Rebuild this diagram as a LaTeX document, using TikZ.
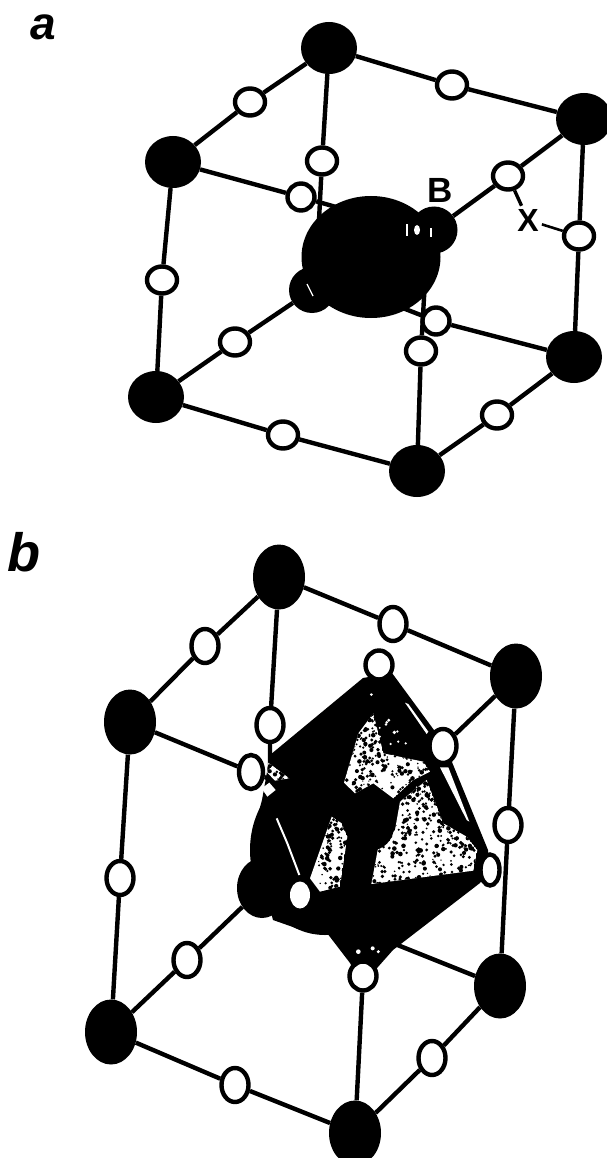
\documentclass[tikz,border=0pt]{standalone}
\usepackage{fontspec}
\setmainfont{Liberation Sans}
\usetikzlibrary{shapes.geometric,backgrounds}
\tikzset{
  x=1pt,y=-1pt,
  blk/.style={ellipse,fill=black,draw=none,inner sep=0pt},
  bka/.style={blk,minimum width=56pt,minimum height=52pt},
  bkb/.style={blk,minimum width=52pt,minimum height=65pt},
  wa/.style={ellipse,fill=white,draw=black,line width=4.4pt,inner sep=0pt,minimum width=30pt,minimum height=27pt},
  wb/.style={ellipse,fill=white,draw=black,line width=4.4pt,inner sep=0pt,minimum width=27pt,minimum height=34pt},
  bond/.style={line width=4.4pt,black},
  panel/.style={font=\bfseries\itshape\fontsize{46}{46}\selectfont,inner sep=0pt},
  lab/.style={font=\bfseries\fontsize{35}{35}\selectfont,inner sep=1pt}
}
\newcommand{\stipple}[7]{% polygon path, seed, x0,y0,w,h, count
  \begin{scope}
    \clip #1;
    \fill[white] #1;
    \pgfmathsetseed{#2}
    \foreach \k in {1,...,#7}{
      \pgfmathsetmacro{\px}{#3+rnd*#5}
      \pgfmathsetmacro{\py}{#4+pow(rnd,1.7)*#6}
      \pgfmathsetmacro{\pr}{2+5*rnd}
      \fill[black] (\px,\py) circle[radius=\pr];
    }
  \end{scope}}
\newcommand{\specks}[7]{% polygon path, seed, x0,y0,w,h, count: white grains on black
  \begin{scope}
    \clip #1;
    \pgfmathsetseed{#2}
    \foreach \k in {1,...,#7}{
      \pgfmathsetmacro{\px}{#3+rnd*#5}
      \pgfmathsetmacro{\py}{#4+rnd*#6}
      \pgfmathsetmacro{\pr}{2+4*rnd}
      \fill[white] (\px,\py) circle[radius=\pr];
    }
  \end{scope}}
\begin{document}
\begin{tikzpicture}
\useasboundingbox (0,0) rectangle (607,1158);
\begin{scope}[on background layer]
  \fill[white] (0,0) rectangle (607,1158);
\end{scope}

% ---------- panel a ----------
\node[panel] (la) at (43,27) {a};
\node[bka] (aT) at (329,48) {};
\node[bka] (aR) at (584,119) {};
\node[bka] (aL) at (173,162) {};
\node[bka] (aBL) at (156,397) {};
\node[bka] (aBR) at (574,357) {};
\node[bka] (aB) at (417,471) {};
\node[blk,minimum width=139pt,minimum height=122pt] (aC) at (371,257) {};
\node[blk,minimum width=47pt,minimum height=47pt] (aS1) at (434,230) {};
\node[blk,minimum width=46pt,minimum height=46pt] (aS2) at (312,290) {};
\fill[white] (417,230) ellipse[x radius=3,y radius=5];
\fill[white] (406,224) rectangle (408,236);
\fill[white] (430,228) rectangle (432,237);
\draw[white,line width=1.2pt] (307,284) -- (313,296);
\coordinate (aCt) at (318,240);
\coordinate (aCl) at (350,211);
\coordinate (aCr) at (395,305);
\coordinate (aCb) at (425,280);

\node[wa] (w1) at (452,85) {};
\node[wa] (w2) at (250,102) {};
\node[wa] (w3) at (322,161) {};
\node[wa,minimum width=27pt] (w4) at (301,197) {};
\node[wa] (w5) at (508,176) {};
\node[wa] (w6) at (579,236) {};
\node[wa] (w7) at (162,280) {};
\node[wa,minimum width=27pt] (w8) at (436,321) {};
\node[wa] (w9) at (421,351) {};
\node[wa] (w10) at (235,342) {};
\node[wa] (w11) at (283,435) {};
\node[wa] (w12) at (497,415) {};
\node[lab] (lB) at (440,190) {B};
\node[lab,font=\bfseries\fontsize{32}{32}\selectfont,inner sep=3pt] (lX) at (528,220) {X};

\begin{scope}[on background layer]
  \draw[bond] (aT)--(w1) (w1)--(aR);
  \draw[bond] (aT)--(w2) (w2)--(aL);
  \draw[bond] (aT)--(w3) (w3)--(aCt);
  \draw[bond] (aL)--(w4) (w4)--(aCl);
  \draw[bond] (aR)--(w5) (w5)--(aS1);
  \draw[bond] (aR)--(w6) (w6)--(aBR);
  \draw[bond] (aL)--(w7) (w7)--(aBL);
  \draw[bond] (aBL)--(w10) (w10)--(aS2);
  \draw[bond] (aBL)--(w11) (w11)--(aB);
  \draw[bond] (aB)--(w12) (w12)--(aBR);
  \draw[bond] (aBR)--(w8) (w8)--(aCr);
  \draw[bond] (aB)--(w9) (w9)--(aCb);
  \draw[line width=3.4pt] (w5) -- (lX);
  \draw[line width=2.6pt] (lX) -- (w6);
\end{scope}

% ---------- panel b ----------
\node[panel,font=\bfseries\itshape\fontsize{54}{54}\selectfont] (lb) at (24,552) {b};
\node[bkb] (bT) at (279,577) {};
\node[bkb] (bR) at (516,676) {};
\node[bkb] (bL) at (130,722) {};
\node[bkb] (bBL) at (111,1032) {};
\node[bkb] (bBR) at (500,986) {};
\node[bkb] (bB) at (355,1133) {};

% octahedron with the central sphere
\node[blk,minimum width=50pt,minimum height=60pt] (bS) at (262,888) {};
\node[blk,minimum width=150pt,minimum height=170pt] (bC) at (325,850) {};
\coordinate (bCt) at (270,790);
\coordinate (bCl) at (300,790);
\coordinate (bCb) at (385,940);
\fill[black] (363,678) -- (270,755) -- (262,800) -- (252,837) -- (273,920) -- (310,933) -- (327,933)
  -- (350,963) -- (362,985) -- (393,950) -- (480,883) -- (490,868) -- (488,850) -- (445,745) -- (392,673) -- cycle;

\begin{scope}[shift={(210,630)},scale=1/3]
  \stipple{(445,310)--(402,458)--(435,490)--(490,460)--(550,505)--(610,450)--(660,425)--(640,395)--(520,370)--(490,250)--cycle}{11}{400}{250}{260}{250}{480}
\end{scope}
\begin{scope}[shift={(210,630)},scale=1/3]
  \stipple{(650,450)--(570,515)--(555,600)--(505,650)--(484,762)--(790,722)--(802,660)--(770,620)--(700,580)--cycle}{23}{480}{450}{325}{315}{620}
\end{scope}
\begin{scope}[shift={(210,630)},scale=1/3]
  \stipple{(365,560)--(300,745)--(330,785)--(390,770)--(412,620)--(395,580)--cycle}{37}{295}{555}{120}{235}{170}
\end{scope}
\begin{scope}[shift={(210,630)},scale=1/3]
  \fill[black] (480,590) circle[radius=72];
  \specks{(550,505)--(660,425)--(650,450)--(570,515)--cycle}{41}{550}{425}{110}{90}{24}
  \specks{(470,190)--(520,190)--(620,400)--(490,370)--cycle}{43}{470}{190}{150}{210}{26}
  \stipple{(175,398)--(238,445)--(195,452)--(172,428)--cycle}{5}{170}{395}{70}{60}{40}
  \fill[white] (178,458)--(197,480)--(172,500)--(155,475)--cycle;
  \draw[white,line width=2pt] (200,565)--(232,640)--(268,735);
  \fill[white] (585,218)--(595,222)--(655,305)--(650,312)--cycle;
  \fill[white] (690,412)--(715,412)--(778,575)--(770,570)--cycle;
  \fill[white] (445,965) circle[radius=7] (488,955) circle[radius=6] (505,965) circle[radius=5];
\end{scope}

\node[wb] (v1) at (393,624) {};
\node[wb] (v2) at (205,646) {};
\node[wb] (v3) at (270,725) {};
\node[wb,minimum width=24pt] (v4) at (251,772) {};
\node[wb] (v5) at (443,746) {};
\node[wb] (v6) at (508,825) {};
\node[wb] (v7) at (120,878) {};
\node[wb,minimum height=29pt] (v8) at (379,665) {};
\node[wb,minimum width=19pt,minimum height=31pt] (v9) at (490,870) {};
\node[wb] (v10) at (187,960) {};
\node[ellipse,fill=white,inner sep=0pt,minimum width=20pt,minimum height=27pt] (v11) at (300,895) {};
\node[wb,minimum height=29pt] (v12) at (363,976) {};
\node[wb] (v13) at (432,1058) {};
\node[wb] (v14) at (235,1085) {};

\begin{scope}[on background layer]
  \draw[bond] (bT)--(v1) (v1)--(bR);
  \draw[bond] (bT)--(v2) (v2)--(bL);
  \draw[bond] (bT)--(v3) (v3)--(bCt);
  \draw[bond] (bL)--(v4) (v4)--(bCl);
  \draw[bond] (bR)--(v5) (v5)--(bC);
  \draw[bond] (bR)--(v6) (v6)--(bBR);
  \draw[bond] (bL)--(v7) (v7)--(bBL);
  \draw[bond] (bBL)--(v10) (v10)--(bS);
  \draw[bond] (bBL)--(v14) (v14)--(bB);
  \draw[bond] (bB)--(v13) (v13)--(bBR);
  \draw[bond] (bB)--(v12);
  \draw[bond] (bBR)--(bCb);
  \draw[line width=3.4pt] (v8)--(v5) (v5)--(v9);
\end{scope}
\end{tikzpicture}
\end{document}
